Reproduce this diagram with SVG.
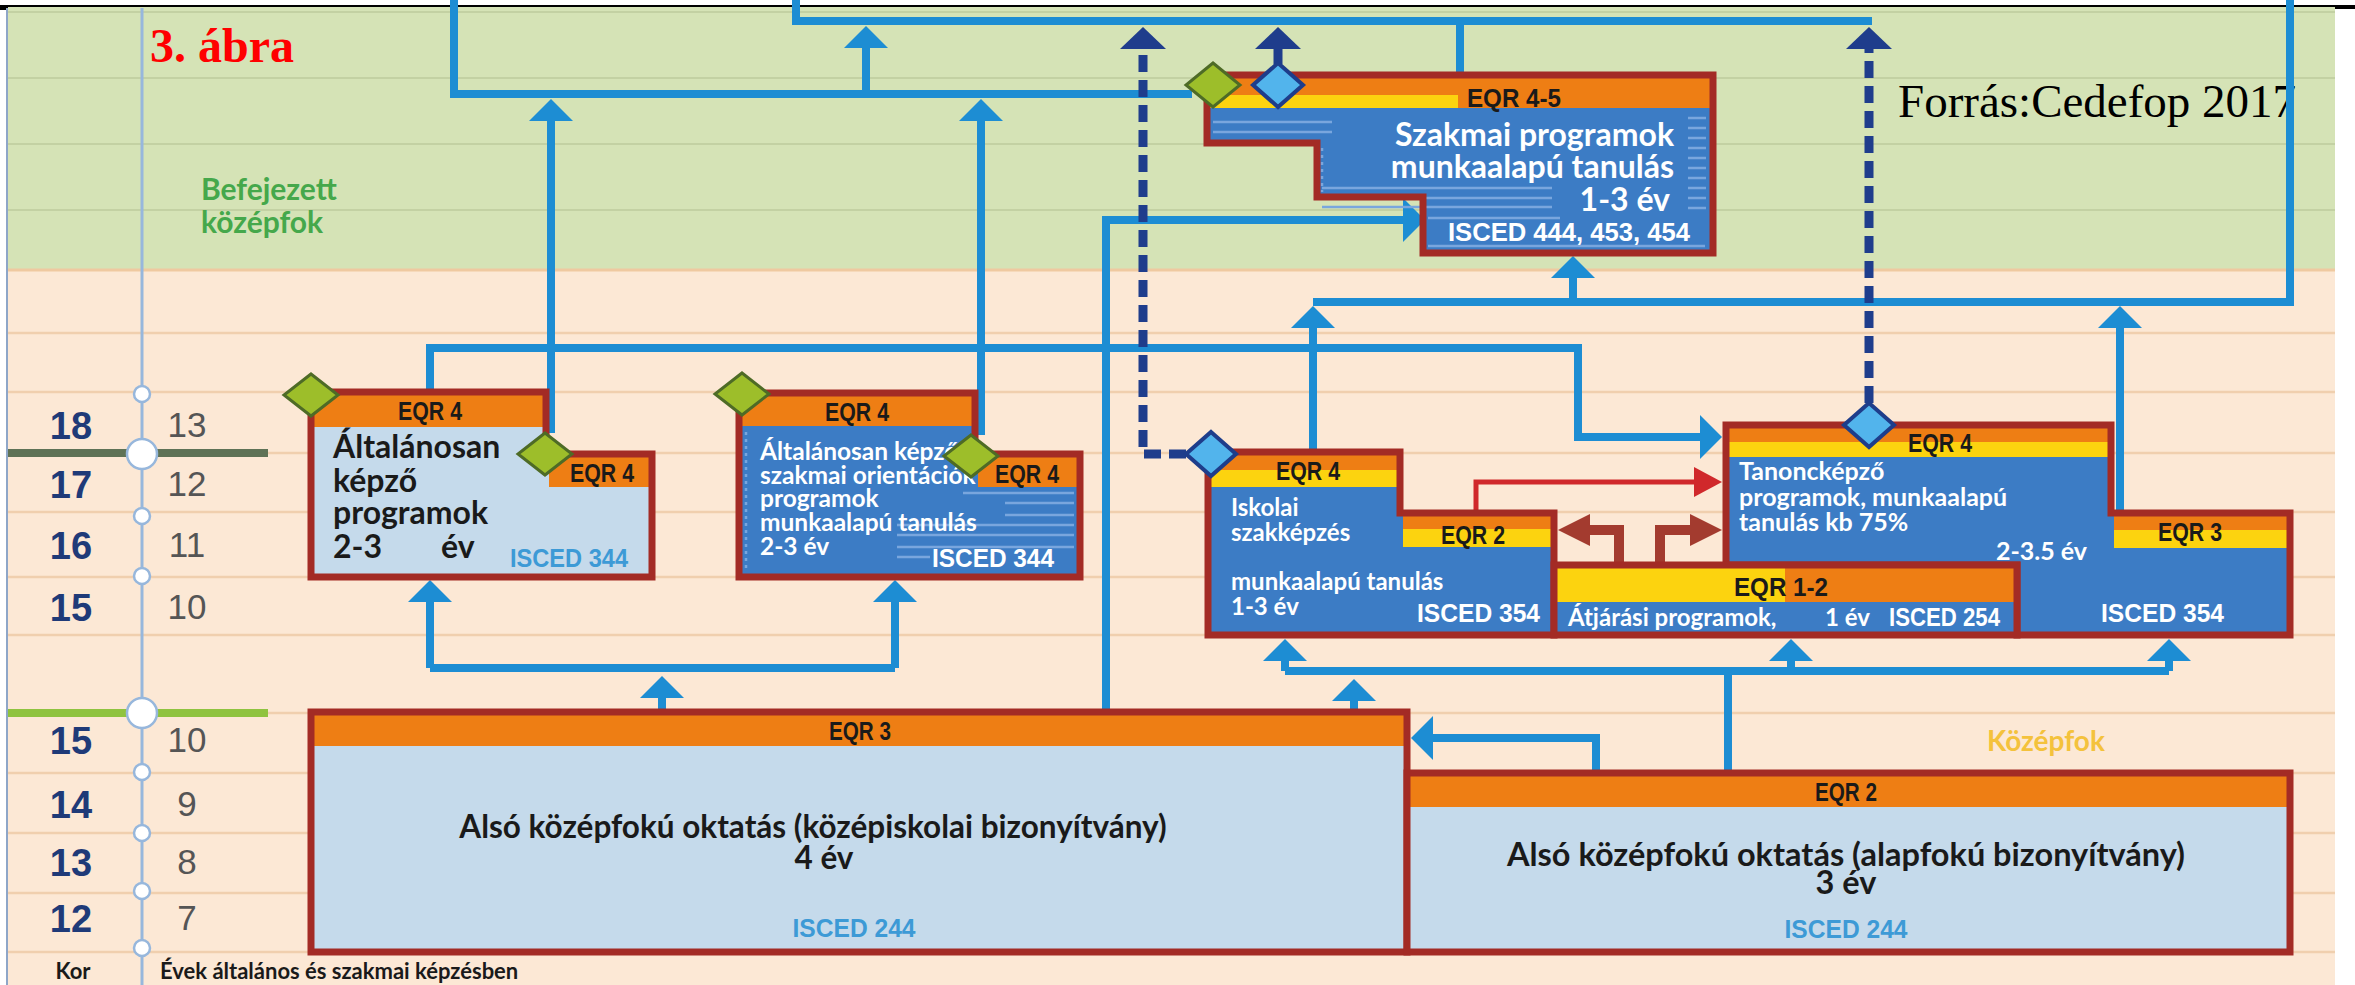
<svg xmlns="http://www.w3.org/2000/svg" width="2355" height="985" viewBox="0 0 2355 985">
<style>
.bgline{stroke:#F0CFAE;stroke-width:2.5}
.gline{stroke:#C3D1A3;stroke-width:2}
.box{stroke:#A32B25;stroke-width:7;fill:none;stroke-linejoin:miter}
.lb{fill:#C5DAEB}
.mb{fill:#3C7CC5}
.or{fill:#EE7E14}
.ye{fill:#FCD30F}
.st{stroke:#79A6DE;stroke-width:2.5}
.con{fill:none;stroke:#1D8DD3;stroke-width:8}
.nav{fill:none;stroke:#1F3D8C;stroke-width:9}
.dash{stroke-dasharray:17 8}
.red{fill:none;stroke:#D0282B;stroke-width:5}
.brn{fill:none;stroke:#A33B2F;stroke-width:10}
.gd{fill:#9DBE2A;stroke:#4E6B26;stroke-width:3}
.bd{fill:#52B4EC;stroke:#1E3D8B;stroke-width:4}
.eqr{font-family:"Liberation Sans",Arial,sans-serif;font-weight:700;font-size:25px;fill:#1A1A1A;text-anchor:middle}
.isc{font-family:"Liberation Sans",Arial,sans-serif;font-weight:700;font-size:25px}
.t{font-family:Lato,"Open Sans",sans-serif;font-weight:700}
.w{fill:#FFFFFF}
.dk{fill:#1A1A1A}
.lbt{fill:#3D9AD6}
.age{font-family:"Liberation Sans",Arial,sans-serif;font-weight:700;font-size:38px;fill:#1F3A78;text-anchor:middle}
.yr{font-family:"Liberation Sans Narrow","Liberation Sans",Arial,sans-serif;font-size:35px;fill:#555555;text-anchor:middle}
.circ{fill:#FFFFFF;stroke:#97B7DC;stroke-width:2.5}
</style>
<defs>
<marker id="ab" markerUnits="userSpaceOnUse" markerWidth="22" markerHeight="44" viewBox="0 0 22 44" refX="10" refY="22" orient="auto"><path d="M0,0 L22,22 L0,44 z" fill="#1D8DD3"/></marker>
<marker id="an" markerUnits="userSpaceOnUse" markerWidth="22" markerHeight="46" viewBox="0 0 22 46" refX="10" refY="23" orient="auto"><path d="M0,0 L22,23 L0,46 z" fill="#1F3D8C"/></marker>
<marker id="ar" markerUnits="userSpaceOnUse" markerWidth="28" markerHeight="30" viewBox="0 0 28 30" refX="12" refY="15" orient="auto"><path d="M0,0 L28,15 L0,30 z" fill="#D0282B"/></marker>
<marker id="abr" markerUnits="userSpaceOnUse" markerWidth="32" markerHeight="32" viewBox="0 0 32 32" refX="12" refY="16" orient="auto"><path d="M0,0 L32,16 L0,32 z" fill="#A33B2F"/></marker>
</defs>

<g id="background">
<rect x="0" y="0" width="2355" height="985" fill="#FFFFFF"/>
<rect x="8" y="7" width="2327" height="263" fill="#D5E3B6"/>
<rect x="8" y="270" width="2327" height="715" fill="#FCE8D5"/>
<line class="gline" x1="8" y1="12" x2="2335" y2="12"/>
<line class="gline" x1="8" y1="78" x2="2335" y2="78"/>
<line class="gline" x1="8" y1="144" x2="2335" y2="144"/>
<line class="gline" x1="8" y1="210" x2="2335" y2="210"/>
<line x1="8" y1="270" x2="2335" y2="270" stroke="#EFC9A0" stroke-width="3"/>
<line class="bgline" x1="8" y1="333" x2="2335" y2="333"/>
<line class="bgline" x1="8" y1="392" x2="2335" y2="392"/>
<line class="bgline" x1="8" y1="453" x2="2335" y2="453"/>
<line class="bgline" x1="8" y1="512" x2="2335" y2="512"/>
<line class="bgline" x1="8" y1="577" x2="2335" y2="577"/>
<line class="bgline" x1="8" y1="635" x2="2335" y2="635"/>
<line class="bgline" x1="8" y1="713" x2="2335" y2="713"/>
<line class="bgline" x1="8" y1="773" x2="2335" y2="773"/>
<line class="bgline" x1="8" y1="833" x2="2335" y2="833"/>
<line class="bgline" x1="8" y1="893" x2="2335" y2="893"/>
<line class="bgline" x1="8" y1="952" x2="2335" y2="952"/>
<line x1="0" y1="6" x2="2335" y2="6" stroke="#000000" stroke-width="2"/>
<rect x="2335" y="5" width="20" height="4" fill="#000000"/>
<rect x="0" y="6" width="8" height="4" fill="#000000"/>
<line x1="7" y1="8" x2="7" y2="985" stroke="#8EA6C8" stroke-width="2"/>
</g>

<g id="axis">
<line x1="8" y1="453" x2="268" y2="453" stroke="#5E7256" stroke-width="8"/>
<line x1="8" y1="713" x2="268" y2="713" stroke="#8FC33F" stroke-width="8"/>
<line x1="142" y1="8" x2="142" y2="985" stroke="#97B7DC" stroke-width="3"/>
<circle class="circ" cx="142" cy="394" r="8"/>
<circle class="circ" cx="142" cy="454" r="15"/>
<circle class="circ" cx="142" cy="516" r="8"/>
<circle class="circ" cx="142" cy="576" r="8"/>
<circle class="circ" cx="142" cy="713" r="15"/>
<circle class="circ" cx="142" cy="772" r="8"/>
<circle class="circ" cx="142" cy="833" r="8"/>
<circle class="circ" cx="142" cy="891" r="8"/>
<circle class="circ" cx="142" cy="948" r="8"/>
<text class="age" x="71" y="439">18</text>
<text class="age" x="71" y="498">17</text>
<text class="age" x="71" y="559">16</text>
<text class="age" x="71" y="621">15</text>
<text class="age" x="71" y="754">15</text>
<text class="age" x="71" y="818">14</text>
<text class="age" x="71" y="876">13</text>
<text class="age" x="71" y="932">12</text>
<text class="yr" x="187" y="437">13</text>
<text class="yr" x="187" y="496">12</text>
<text class="yr" x="187" y="557">11</text>
<text class="yr" x="187" y="619">10</text>
<text class="yr" x="187" y="752">10</text>
<text class="yr" x="187" y="816">9</text>
<text class="yr" x="187" y="874">8</text>
<text class="yr" x="187" y="930">7</text>
<text class="t dk" x="73" y="979" font-size="22" text-anchor="middle">Kor</text>
<text class="t dk" x="160" y="979" font-size="22">Évek általános és szakmai képzésben</text>
</g>

<g id="labels">
<text x="150" y="62" font-family="'Liberation Serif','Times New Roman',serif" font-weight="700" font-size="48" fill="#FF0000">3. ábra</text>
<text x="1898" y="117" font-family="'Liberation Serif','Times New Roman',serif" font-size="47" fill="#000000">Forrás:Cedefop 2017</text>
<text class="t" x="201" y="200" font-size="30" fill="#45A84B">Befejezett</text>
<text class="t" x="201" y="233" font-size="30" fill="#45A84B">középfok</text>
<text class="t" x="1987" y="751" font-size="28" fill="#F4C23C">Középfok</text>
</g>

<g id="connectors">
<path class="con" d="M454,0 V94 H1192"/>
<path class="con" d="M866,94 V38" marker-end="url(#ab)"/>
<path class="con" d="M796,0 V21 H1872"/>
<path class="con" d="M551,433 V111" marker-end="url(#ab)"/>
<path class="con" d="M981,435 V111" marker-end="url(#ab)"/>
<path class="con" d="M430,392 V348 H1578 V437 H1710" marker-end="url(#ab)"/>
<path class="con" d="M1106,712 V220 H1413" marker-end="url(#ab)"/>
<path class="con" d="M1460,21 V75"/>
<path class="con" d="M1313,452 V318" marker-end="url(#ab)"/>
<path class="con" d="M1313,302 H2290 V0"/>
<path class="con" d="M1573,302 V268" marker-end="url(#ab)"/>
<path class="con" d="M2120,513 V318" marker-end="url(#ab)"/>
<path class="con" d="M430,668 H895"/>
<path class="con" d="M430,668 V592" marker-end="url(#ab)"/>
<path class="con" d="M895,668 V592" marker-end="url(#ab)"/>
<path class="con" d="M662,712 V688" marker-end="url(#ab)"/>
<path class="con" d="M1285,671 H2169"/>
<path class="con" d="M1285,671 V651" marker-end="url(#ab)"/>
<path class="con" d="M1791,671 V651" marker-end="url(#ab)"/>
<path class="con" d="M2169,671 V651" marker-end="url(#ab)"/>
<path class="con" d="M1354,712 V691" marker-end="url(#ab)"/>
<path class="con" d="M1728,773 V671"/>
<path class="con" d="M1596,773 V738 H1423" marker-end="url(#ab)"/>
<path class="nav dash" d="M1186,454 H1143 V39" marker-end="url(#an)"/>
<path class="nav" d="M1278,64 V39" marker-end="url(#an)"/>
<path class="nav dash" d="M1869,403 V39" marker-end="url(#an)"/>
<path class="red" d="M1476,513 V482 H1706" marker-end="url(#ar)"/>
<path class="brn" d="M1619,565 V530 H1578" marker-end="url(#abr)"/>
<path class="brn" d="M1660,565 V530 H1702" marker-end="url(#abr)"/>
</g>

<g id="node-eqr3-lower">
<rect class="lb" x="311" y="712" width="1096" height="240"/>
<rect class="or" x="314" y="715" width="1090" height="31"/>
<rect class="box" x="311" y="712" width="1096" height="240"/>
<text class="eqr" x="860" y="740" textLength="62" lengthAdjust="spacingAndGlyphs">EQR 3</text>
<text class="t dk" x="813" y="838" font-size="31.5" text-anchor="middle">Alsó középfokú oktatás (középiskolai bizonyítvány)</text>
<text class="t dk" x="824" y="869" font-size="31.5" text-anchor="middle">4 év</text>
<text class="isc lbt" x="854" y="937" text-anchor="middle" textLength="123" lengthAdjust="spacingAndGlyphs">ISCED 244</text>
</g>

<g id="node-eqr2-lower">
<rect class="lb" x="1407" y="773" width="883" height="179"/>
<rect class="or" x="1410" y="776" width="877" height="31"/>
<rect class="box" x="1407" y="773" width="883" height="179"/>
<text class="eqr" x="1846" y="801" textLength="62" lengthAdjust="spacingAndGlyphs">EQR 2</text>
<text class="t dk" x="1846" y="866" font-size="32.5" text-anchor="middle">Alsó középfokú oktatás (alapfokú bizonyítvány)</text>
<text class="t dk" x="1846" y="894" font-size="32.5" text-anchor="middle">3 év</text>
<text class="isc lbt" x="1846" y="938" text-anchor="middle" textLength="123" lengthAdjust="spacingAndGlyphs">ISCED 244</text>
</g>

<g id="node-altalanos">
<polygon class="lb" points="311,392 546,392 546,454 652,454 652,577 311,577"/>
<rect class="or" x="314" y="395" width="229" height="32"/>
<rect class="or" x="549" y="457" width="100" height="30"/>
<polygon class="box" points="311,392 546,392 546,454 652,454 652,577 311,577"/>
<text class="eqr" x="430" y="420" textLength="64" lengthAdjust="spacingAndGlyphs">EQR 4</text>
<text class="eqr" x="602" y="482" textLength="64" lengthAdjust="spacingAndGlyphs">EQR 4</text>
<text class="t dk" x="333" y="458" font-size="32">Általánosan</text>
<text class="t dk" x="333" y="492" font-size="32">képző</text>
<text class="t dk" x="333" y="524" font-size="32">programok</text>
<text class="t dk" x="333" y="558" font-size="32">2-3<tspan x="441">év</tspan></text>
<text class="isc lbt" x="510" y="567" textLength="118" lengthAdjust="spacingAndGlyphs">ISCED 344</text>
<polygon class="gd" points="311,374 338,395 311,416 284,395"/>
<polygon class="gd" points="545,433 572,454 545,475 518,454"/>
</g>

<g id="node-szakmai-orientacio">
<polygon class="mb" points="739,393 975,393 975,454 1080,454 1080,577 739,577"/>
<rect class="or" x="742" y="396" width="230" height="30"/>
<rect class="or" x="978" y="457" width="99" height="30"/>
<line class="st" x1="963" y1="493" x2="1074" y2="493"/>
<line class="st" x1="1005" y1="503" x2="1074" y2="503"/>
<line class="st" x1="1005" y1="515" x2="1074" y2="515"/>
<line class="st" x1="897" y1="525" x2="1074" y2="525"/>
<line class="st" x1="897" y1="535" x2="1074" y2="535"/>
<line class="st" x1="897" y1="547" x2="1074" y2="547"/>
<line class="st" x1="897" y1="557" x2="930" y2="557"/>
<line class="st" x1="746" y1="432" x2="746" y2="570" stroke-dasharray="3 4"/>
<polygon class="box" points="739,393 975,393 975,454 1080,454 1080,577 739,577"/>
<text class="eqr" x="857" y="421" textLength="64" lengthAdjust="spacingAndGlyphs">EQR 4</text>
<text class="eqr" x="1027" y="483" textLength="64" lengthAdjust="spacingAndGlyphs">EQR 4</text>
<text class="t w" x="760" y="460" font-size="24.5">Általánosan képző</text>
<text class="t w" x="760" y="484" font-size="24.5">szakmai orientációk</text>
<text class="t w" x="760" y="507" font-size="24.5">programok</text>
<text class="t w" x="760" y="531" font-size="24.5">munkaalapú tanulás</text>
<text class="t w" x="760" y="555" font-size="24.5">2-3 év</text>
<text class="isc w" x="932" y="567" textLength="122" lengthAdjust="spacingAndGlyphs">ISCED 344</text>
<polygon class="gd" points="742,373 769,394 742,415 715,394"/>
<polygon class="gd" points="971,435 998,456 971,477 944,456"/>
</g>

<g id="node-szakmai-eqr45">
<polygon class="mb" points="1207,75 1713,75 1713,253 1423,253 1423,197 1317,197 1317,143 1207,143"/>
<rect class="or" x="1210" y="78" width="500" height="30"/>
<rect class="ye" x="1210" y="95" width="248" height="13"/>
<line class="st" x1="1213" y1="122" x2="1332" y2="122"/>
<line class="st" x1="1213" y1="132" x2="1332" y2="132"/>
<line class="st" x1="1322" y1="188" x2="1552" y2="188"/>
<line class="st" x1="1322" y1="198" x2="1552" y2="198"/>
<line class="st" x1="1322" y1="207" x2="1552" y2="207"/>
<line class="st" x1="1428" y1="218" x2="1560" y2="218"/>
<line class="st" x1="1428" y1="246" x2="1705" y2="246"/>
<line class="st" x1="1322" y1="148" x2="1322" y2="192" stroke-dasharray="3 4"/>
<line class="st" x1="1688" y1="118" x2="1706" y2="118"/>
<line class="st" x1="1688" y1="128" x2="1706" y2="128"/>
<line class="st" x1="1688" y1="138" x2="1706" y2="138"/>
<line class="st" x1="1688" y1="148" x2="1706" y2="148"/>
<line class="st" x1="1688" y1="158" x2="1706" y2="158"/>
<line class="st" x1="1688" y1="168" x2="1706" y2="168"/>
<line class="st" x1="1688" y1="178" x2="1706" y2="178"/>
<line class="st" x1="1688" y1="188" x2="1706" y2="188"/>
<line class="st" x1="1688" y1="198" x2="1706" y2="198"/>
<line class="st" x1="1688" y1="208" x2="1706" y2="208"/>
<polygon class="box" points="1207,75 1713,75 1713,253 1423,253 1423,197 1317,197 1317,143 1207,143"/>
<text class="eqr" x="1514" y="107" textLength="94" lengthAdjust="spacingAndGlyphs">EQR 4-5</text>
<text class="t w" x="1674" y="146" font-size="32" text-anchor="end">Szakmai programok</text>
<text class="t w" x="1674" y="178" font-size="32" text-anchor="end">munkaalapú tanulás</text>
<text class="t w" x="1670" y="211" font-size="32" text-anchor="end">1-3 év</text>
<text class="isc w" x="1448" y="241" textLength="242" lengthAdjust="spacingAndGlyphs">ISCED 444, 453, 454</text>
<polygon class="gd" points="1213,63 1240,85 1213,107 1186,85"/>
<polygon class="bd" points="1278,63 1303,85 1278,107 1253,85"/>
</g>

<g id="node-iskolai">
<polygon class="mb" points="1208,452 1400,452 1400,513 1554,513 1554,635 1208,635"/>
<rect class="or" x="1211" y="455" width="186" height="15"/>
<rect class="ye" x="1211" y="470" width="186" height="17"/>
<rect class="or" x="1403" y="516" width="148" height="13"/>
<rect class="ye" x="1403" y="529" width="148" height="18"/>
<polygon class="box" points="1208,452 1400,452 1400,513 1554,513 1554,635 1208,635"/>
<text class="eqr" x="1308" y="480" textLength="64" lengthAdjust="spacingAndGlyphs">EQR 4</text>
<text class="eqr" x="1473" y="544" textLength="64" lengthAdjust="spacingAndGlyphs">EQR 2</text>
<text class="t w" x="1231" y="516" font-size="24">Iskolai</text>
<text class="t w" x="1231" y="541" font-size="24">szakképzés</text>
<text class="t w" x="1231" y="590" font-size="24">munkaalapú tanulás</text>
<text class="t w" x="1231" y="615" font-size="24">1-3 év</text>
<text class="isc w" x="1417" y="622" textLength="123" lengthAdjust="spacingAndGlyphs">ISCED 354</text>
<polygon class="bd" points="1211,432 1236,454 1211,476 1186,454"/>
</g>

<g id="node-tanonc">
<polygon class="mb" points="1726,425 2111,425 2111,513 2290,513 2290,635 2017,635 2017,565 1726,565"/>
<rect class="or" x="1729" y="428" width="379" height="14"/>
<rect class="ye" x="1729" y="442" width="379" height="15"/>
<rect class="or" x="2114" y="516" width="173" height="14"/>
<rect class="ye" x="2114" y="530" width="173" height="18"/>
<polygon class="box" points="1726,425 2111,425 2111,513 2290,513 2290,635 2017,635 2017,565 1726,565"/>
<text class="eqr" x="1940" y="452" textLength="64" lengthAdjust="spacingAndGlyphs">EQR 4</text>
<text class="eqr" x="2190" y="541" textLength="64" lengthAdjust="spacingAndGlyphs">EQR 3</text>
<text class="t w" x="1739" y="480" font-size="25">Tanoncképző</text>
<text class="t w" x="1739" y="506" font-size="25">programok, munkaalapú</text>
<text class="t w" x="1739" y="531" font-size="25">tanulás kb 75%</text>
<text class="t w" x="1996" y="560" font-size="25">2-3.5 év</text>
<text class="isc w" x="2101" y="622" textLength="123" lengthAdjust="spacingAndGlyphs">ISCED 354</text>
<polygon class="bd" points="1869,403 1894,425 1869,447 1844,425"/>
</g>

<g id="node-atjarasi">
<rect class="mb" x="1554" y="565" width="463" height="70"/>
<rect class="ye" x="1557" y="568" width="228" height="34"/>
<rect class="or" x="1785" y="568" width="229" height="34"/>
<rect class="box" x="1554" y="565" width="463" height="70"/>
<text class="eqr" x="1781" y="596" textLength="94" lengthAdjust="spacingAndGlyphs">EQR 1-2</text>
<text class="t w" x="1568" y="626" font-size="24">Átjárási programok,<tspan x="1825">1 év</tspan></text>
<text class="isc w" x="1889" y="626" textLength="111" lengthAdjust="spacingAndGlyphs">ISCED 254</text>
</g>
</svg>
